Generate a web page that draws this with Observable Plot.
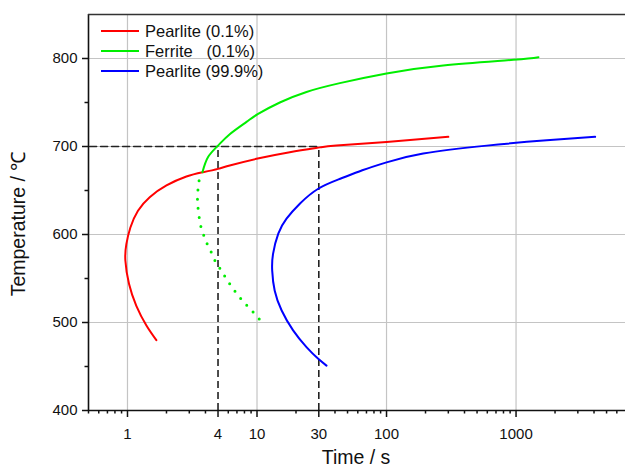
<!DOCTYPE html>
<html>
<head>
<meta charset="utf-8">
<script src="https://cdn.jsdelivr.net/npm/d3@7"></script>
<script src="https://cdn.jsdelivr.net/npm/@observablehq/plot@0.6"></script>
<style>
  html, body { margin: 0; padding: 0; background: #fff; }
  #wrap { position: relative; width: 625px; height: 470px; font-family: "Liberation Sans", Arial, sans-serif; color: #111; }
  #legend { position: absolute; left: 101px; top: 21px; font-size: 16.5px; }
  .row { display: flex; align-items: center; height: 20px; white-space: pre; }
  .sw { width: 38px; height: 2px; margin-right: 6px; }
  #ytitle { position: absolute; left: 19px; top: 224px; transform: translate(-50%, -50%) rotate(-90deg); white-space: nowrap; font-size: 19.5px; line-height: 1; }
  #xtitle { position: absolute; left: 356px; top: 458px; transform: translate(-50%, -50%); white-space: nowrap; font-size: 19.5px; line-height: 1; }
</style>
</head>
<body>
<div id="wrap"><div id="legend"></div><div id="ytitle"></div><div id="xtitle"></div></div>
<script>
// ---- data ----
const seriesNames = ["Pearlite (0.1%)", "Ferrite   (0.1%)", "Pearlite (99.9%)"];
const seriesColors = ["#ff0000", "#00ee00", "#0000ff"];

const pearlite01Time = [1.67, 1.40, 1.17, 1.027, 0.963, 0.98, 1.053, 1.205, 1.484, 2.0, 2.85, 3.83, 5.0, 6.16, 9.9, 17.9, 30.6, 41, 100, 300];
const pearlite01Temp = [480, 496.6, 519, 544, 570.5, 589, 608, 627, 642.4, 655.7, 665.9, 670.8, 674.6, 678.4, 686, 693.5, 699, 701, 705, 711];

const ferriteTime = [3.79, 4.19, 5.0, 6.16, 8.3, 10.2, 15, 24.1, 43.6, 100, 274, 953, 1490];
const ferriteTemp = [670.8, 688, 701, 714, 728, 737, 750, 762, 772, 783, 792, 798.5, 801.5];

const ferriteDotTime = [3.57, 3.5, 3.47, 3.5, 3.57, 3.66, 3.83, 4.07, 4.37, 4.71, 5.16, 5.7, 6.35, 7.14, 8.15, 9.44, 11.0];
const ferriteDotTemp = [661, 650.8, 640.5, 631, 620.5, 611, 601.5, 591, 582, 571, 561.7, 551.5, 541, 531, 521, 511, 500];

const pearlite999Time = [34.4, 29.7, 24.1, 19.0, 15.5, 13.7, 13.1, 13.3, 14.6, 16.9, 21.4, 29.7, 43.9, 65, 100, 192, 594, 1727, 4080];
const pearlite999Temp = [451, 458.7, 472, 491, 513.6, 536, 559, 578, 601, 618, 635, 652, 663.3, 673, 682, 692, 701, 707, 711];

const guideTimes = [5, 30];       // vertical dashed guides
const guideTemp = 700;            // horizontal dashed guide
const guideStartTime = 0.51;

const xTickValues = [1, 5, 10, 30, 100, 1000];
const xTickLabels = ["1", "4", "10", "30", "100", "1000"];
const xMinorTicks = [0.5, 0.6, 0.7, 0.8, 0.9, 2, 3, 4, 6, 7, 8, 9, 20, 40, 50, 60, 70, 80, 90, 200, 300, 400, 500, 600, 700, 800, 900, 2000, 3000, 4000, 5000, 6000];
const xGrid = [1, 10, 100, 1000];
const yTickValues = [400, 500, 600, 700, 800];
const yMinorTicks = [450, 550, 650, 750];
const yGrid = [500, 600, 700, 800];
const xDomain = [0.5, 7000];
const yDomain = [400, 850];
const xTitle = "Time / s";
const yTitle = "Temperature / ℃";

// ---- build tables ----
const toRows = (ts, vs) => ts.map((t, i) => ({time: t, temp: vs[i]}));
const pearlite01 = toRows(pearlite01Time, pearlite01Temp);
const ferrite = toRows(ferriteTime, ferriteTemp);
const ferriteDot = toRows(ferriteDotTime, ferriteDotTemp);
const pearlite999 = toRows(pearlite999Time, pearlite999Temp);
const hGuide = [{time: guideStartTime, temp: guideTemp}, {time: d3.max(guideTimes), temp: guideTemp}];
const labelMap = new Map(xTickValues.map((v, i) => [v, xTickLabels[i]]));

const chart = Plot.plot({
  width: 625,
  height: 470,
  marginLeft: 88,
  marginRight: 0,
  marginTop: 14,
  marginBottom: 60,
  style: {fontFamily: "'Liberation Sans', Arial, sans-serif", background: "#fff", color: "#111", overflow: "visible"},
  x: {type: "log", domain: xDomain},
  y: {domain: yDomain},
  marks: [
    Plot.gridX(xGrid, {stroke: "#c4c4c4", strokeOpacity: 1, strokeWidth: 1.2}),
    Plot.gridY(yGrid, {stroke: "#c4c4c4", strokeOpacity: 1, strokeWidth: 1.2}),
    // dashed guides
    Plot.line(hGuide, {x: "time", y: "temp", stroke: "#222", strokeWidth: 1.6, strokeDasharray: "7,4"}),
    Plot.ruleX(guideTimes, {x: d => d, y1: yDomain[0], y2: guideTemp, stroke: "#222", strokeWidth: 1.6, strokeDasharray: "7,4"}),
    // curves
    Plot.line(pearlite01, {x: "time", y: "temp", stroke: seriesColors[0], strokeWidth: 2, curve: "natural"}),
    Plot.line(ferrite, {x: "time", y: "temp", stroke: seriesColors[1], strokeWidth: 2, curve: "natural"}),
    Plot.line(ferriteDot, {x: "time", y: "temp", stroke: seriesColors[1], strokeWidth: 3, strokeDasharray: "0,9.2", strokeLinecap: "round", curve: "natural"}),
    Plot.line(pearlite999, {x: "time", y: "temp", stroke: seriesColors[2], strokeWidth: 2, curve: "natural"}),
    // axes
    Plot.ruleX([xDomain[0]], {stroke: "#111", strokeWidth: 1.6}),
    Plot.ruleY([yDomain[0]], {stroke: "#111", strokeWidth: 1.6}),
    Plot.ruleY([yDomain[1]], {stroke: "#333", strokeWidth: 1.4}),
    Plot.axisX(xTickValues, {tickSize: 7, strokeWidth: 1.5, fill: "none", label: null}),
    Plot.axisX(xMinorTicks, {tickSize: 3.5, strokeWidth: 1.5, fill: "none", label: null}),
    Plot.text(xTickValues, {x: d => d, y: yDomain[0], text: d => labelMap.get(d), dy: 24, fontSize: 15, fill: "#111"}),
    Plot.axisY(yTickValues, {tickSize: 6, tickPadding: 5, strokeWidth: 1.5, fontSize: 15, label: null}),
    Plot.axisY(yMinorTicks, {tickSize: 3.5, strokeWidth: 1.5, fill: "none", label: null})
  ]
});

const wrap = document.getElementById("wrap");
wrap.insertBefore(chart, wrap.firstChild);
document.getElementById("xtitle").textContent = xTitle;
document.getElementById("ytitle").textContent = yTitle;

const legend = document.getElementById("legend");
seriesNames.forEach((name, i) => {
  const row = document.createElement("div");
  row.className = "row";
  const sw = document.createElement("span");
  sw.className = "sw";
  sw.style.background = seriesColors[i];
  const tx = document.createElement("span");
  tx.textContent = name;
  row.appendChild(sw);
  row.appendChild(tx);
  legend.appendChild(row);
});
</script>
</body>
</html>
